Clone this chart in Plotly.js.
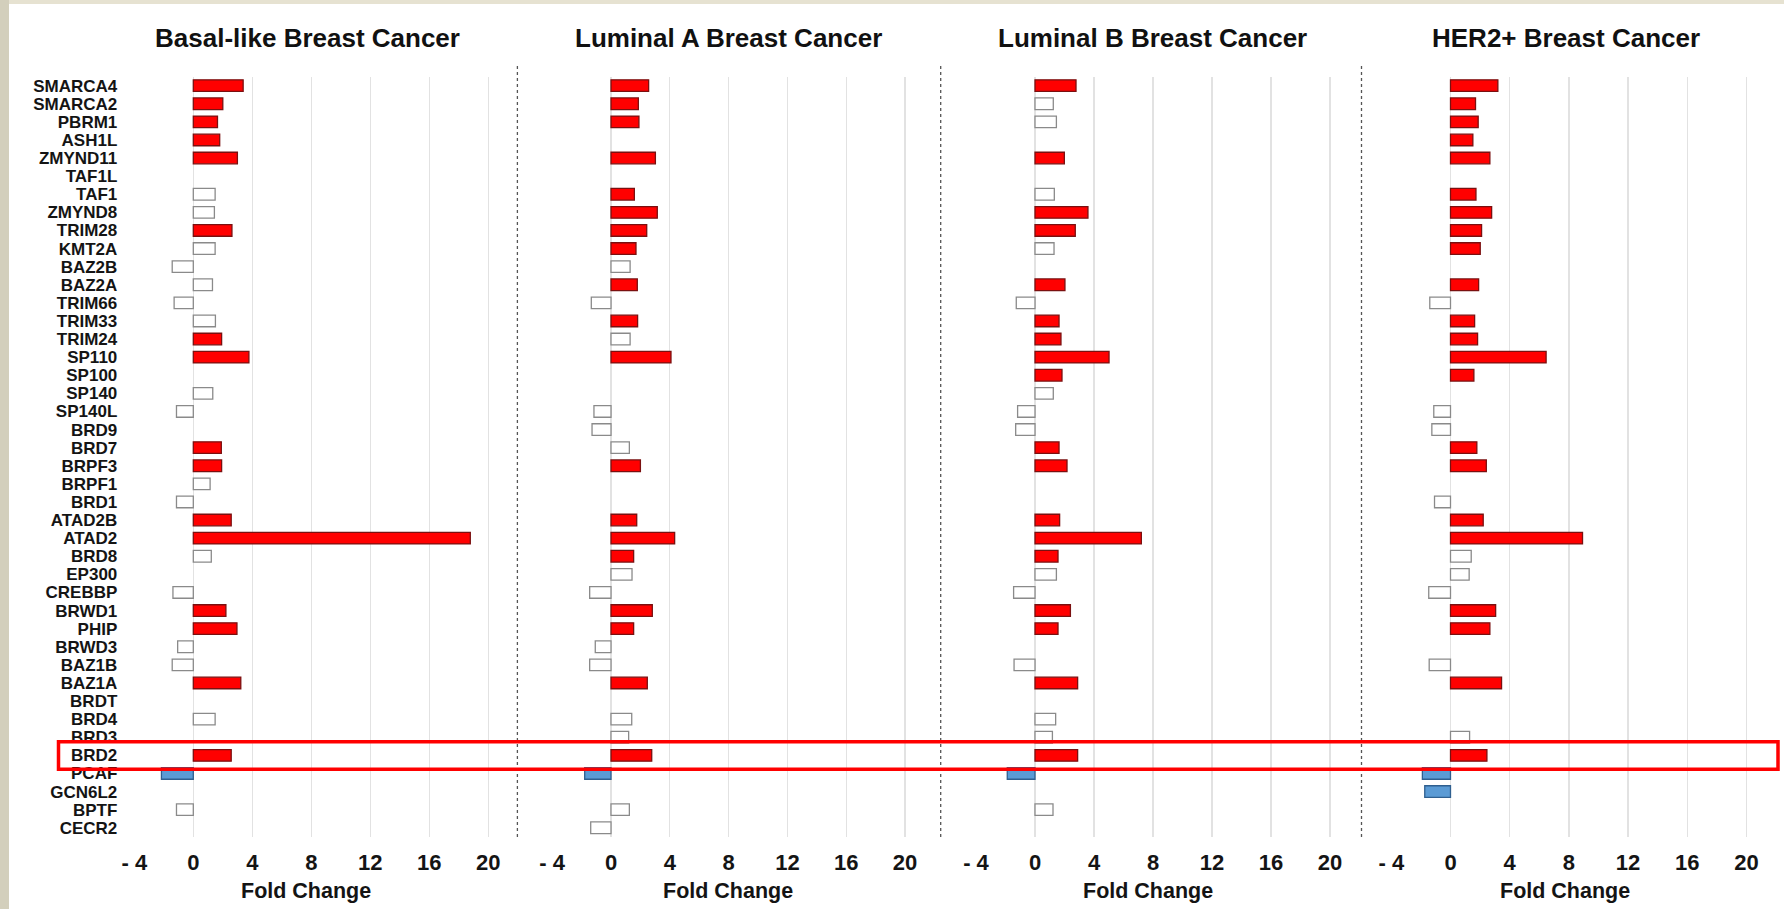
<!DOCTYPE html>
<html>
<head>
<meta charset="utf-8">
<script src="https://cdn.plot.ly/plotly-3.0.1.min.js"></script>
<style>
  html, body { margin: 0; padding: 0; background: #ffffff; }
  #chart { width: 1784px; height: 909px; }
</style>
</head>
<body>
<div id="chart"></div>
<script>
// ---------- DATA ----------
const genes = ["SMARCA4","SMARCA2","PBRM1","ASH1L","ZMYND11","TAF1L","TAF1","ZMYND8","TRIM28","KMT2A",
  "BAZ2B","BAZ2A","TRIM66","TRIM33","TRIM24","SP110","SP100","SP140","SP140L","BRD9",
  "BRD7","BRPF3","BRPF1","BRD1","ATAD2B","ATAD2","BRD8","EP300","CREBBP","BRWD1",
  "PHIP","BRWD3","BAZ1B","BAZ1A","BRDT","BRD4","BRD3","BRD2","PCAF","GCN6L2",
  "BPTF","CECR2"];

const panelTitles = ["Basal-like Breast Cancer","Luminal A Breast Cancer","Luminal B Breast Cancer","HER2+ Breast Cancer"];
const xTickVals = [-4,0,4,8,12,16,20];
const xTickText = ["- 4","0","4","8","12","16","20"];
const xTitle = "Fold Change";

// Fold change values (null = not shown)
const basalFC = [3.38,2.0,1.64,1.79,2.99,null,1.48,1.43,2.62,1.48,
  -1.43,1.3,-1.3,1.5,1.92,3.77,null,1.32,-1.14,null,
  1.9,1.92,1.14,-1.14,2.57,18.78,1.22,null,-1.38,2.21,
  2.96,-1.06,-1.43,3.22,null,1.48,null,2.57,-2.16,null,
  -1.14,null];
const lumAFC = [2.56,1.86,1.9,null,3.02,null,1.59,3.15,2.43,1.7,
  1.3,1.79,-1.34,1.81,1.3,4.08,null,null,-1.16,-1.29,
  1.25,2.0,null,null,1.75,4.33,1.54,1.43,-1.45,2.81,
  1.54,-1.07,-1.45,2.47,null,1.41,1.2,2.77,-1.79,null,
  1.25,-1.38];
const lumBFC = [2.78,1.24,1.45,null,1.99,null,1.31,3.59,2.73,1.29,
  null,2.03,-1.27,1.63,1.76,5.02,1.83,1.24,-1.18,-1.31,
  1.63,2.17,null,null,1.67,7.21,1.56,1.45,-1.45,2.4,
  1.56,null,-1.42,2.89,null,1.4,1.18,2.89,-1.88,null,
  1.22,null];
const her2FC = [3.2,1.69,1.87,1.51,2.66,null,1.72,2.78,2.1,2.01,
  null,1.9,-1.4,1.63,1.83,6.46,1.58,null,-1.13,-1.26,
  1.78,2.42,null,-1.08,2.21,8.92,1.4,1.26,-1.47,3.05,
  2.66,null,-1.44,3.45,null,null,1.29,2.46,-1.9,-1.74,
  null,null];

// Significance flags (1 = significant, 0 = not significant)
const basalSig = [1,1,1,1,1,0,0,0,1,0, 0,0,0,0,1,1,0,0,0,0, 1,1,0,0,1,1,0,0,0,1, 1,0,0,1,0,0,0,1,1,0, 0,0];
const lumASig  = [1,1,1,0,1,0,1,1,1,1, 0,1,0,1,0,1,0,0,0,0, 0,1,0,0,1,1,1,0,0,1, 1,0,0,1,0,0,0,1,1,0, 0,0];
const lumBSig  = [1,0,0,0,1,0,0,1,1,0, 0,1,0,1,1,1,1,0,0,0, 1,1,0,0,1,1,1,0,0,1, 1,0,0,1,0,0,0,1,1,0, 0,0];
const her2Sig  = [1,1,1,1,1,0,1,1,1,1, 0,1,0,1,1,1,1,0,0,0, 1,1,0,0,1,1,0,0,0,1, 1,0,0,1,0,0,0,1,1,1, 0,0];

// ---------- STYLE ----------
const W = 1784, H = 909;
const FONT = "Liberation Sans, Arial, Helvetica, sans-serif";
const px = v => v / W;
const py = v => 1 - v / H;

const panels = [
  {fc: basalFC, sig: basalSig, dom: [134.3, 517.8], titleX: 307, fcX: 306},
  {fc: lumAFC,  sig: lumASig,  dom: [552.2, 934.4], titleX: 728, fcX: 728},
  {fc: lumBFC,  sig: lumBSig,  dom: [976.0, 1359.5], titleX: 1152, fcX: 1148},
  {fc: her2FC,  sig: her2Sig,  dom: [1391.3, 1776.1], titleX: 1566, fcX: 1565}
];

function fillFor(v, s) {
  if (v === null) return "rgba(0,0,0,0)";
  if (!s) return "#ffffff";
  return v > 0 ? "#ff0000" : "#5b9bd5";
}
function lineFor(v, s) {
  if (v === null) return "rgba(0,0,0,0)";
  if (!s) return "#8a8a8a";
  return v > 0 ? "#7a1010" : "#2f5f8f";
}

const traces = panels.map((p, i) => ({
  type: "bar",
  orientation: "h",
  y: genes,
  x: p.fc,
  xaxis: i === 0 ? "x" : "x" + (i + 1),
  yaxis: "y",
  width: 0.64,
  marker: {
    color: p.fc.map((v, k) => fillFor(v, p.sig[k])),
    line: {color: p.fc.map((v, k) => lineFor(v, p.sig[k])), width: 1.3}
  },
  hoverinfo: "y+x",
  showlegend: false
}));

const layout = {
  width: W, height: H,
  margin: {l: 0, r: 0, t: 0, b: 0},
  paper_bgcolor: "#ffffff",
  plot_bgcolor: "rgba(0,0,0,0)",
  bargap: 0.36,
  showlegend: false,
  yaxis: {
    type: "category",
    categoryarray: genes,
    categoryorder: "array",
    tickmode: "array",
    tickvals: genes,
    ticktext: genes,
    range: [genes.length - 0.5, -0.5],
    domain: [py(836.8), py(76.6)],
    anchor: "x",
    showgrid: false, zeroline: false, showline: false,
    ticks: "",
    ticklabelstandoff: 16,
    tickfont: {family: FONT, size: 17, color: "#141414", weight: "bold"},
    fixedrange: true
  },
  annotations: [],
  shapes: []
};

panels.forEach((p, i) => {
  const key = i === 0 ? "xaxis" : "xaxis" + (i + 1);
  layout[key] = {
    domain: [px(p.dom[0]), px(p.dom[1])],
    range: [-4, 22],
    anchor: "y",
    tickmode: "array",
    tickvals: xTickVals,
    ticktext: xTickText,
    showgrid: true,
    gridcolor: "#e2e2e2",
    gridwidth: 1.3,
    zeroline: false,
    showline: false,
    ticks: "",
    ticklabelstandoff: 10,
    tickfont: {family: FONT, size: 22, color: "#141414", weight: "bold"},
    fixedrange: true
  };
  layout.annotations.push({
    xref: "paper", yref: "paper", x: px(p.titleX), y: py(38),
    xanchor: "center", yanchor: "middle", showarrow: false,
    text: panelTitles[i],
    font: {family: FONT, size: 26, color: "#111111", weight: "bold"}
  });
  layout.annotations.push({
    xref: "paper", yref: "paper", x: px(p.fcX), y: py(890.5),
    xanchor: "center", yanchor: "middle", showarrow: false,
    text: xTitle,
    font: {family: FONT, size: 21.5, color: "#141414", weight: "bold"}
  });
});

// panel separators (dotted)
[517.4, 940.7, 1361.5].forEach(xp => {
  layout.shapes.push({
    type: "line", xref: "paper", yref: "paper",
    x0: px(xp), x1: px(xp), y0: py(66), y1: py(838),
    line: {color: "#555555", width: 1.3, dash: "dot"}
  });
});

// background border strips
layout.shapes.push({type: "rect", xref: "paper", yref: "paper", x0: 0, x1: 1, y0: py(4), y1: 1,
  fillcolor: "#e6e2d1", line: {width: 0}, layer: "below"});
layout.shapes.push({type: "rect", xref: "paper", yref: "paper", x0: 0, x1: px(9), y0: 0, y1: 1,
  fillcolor: "#d3cfbc", line: {width: 0}, layer: "below"});

// highlight box around BRD2
layout.shapes.push({
  type: "rect", xref: "paper", yref: "paper",
  x0: px(58.5), x1: px(1778), y0: py(769.3), y1: py(741.7),
  line: {color: "#ff0000", width: 3.5}, fillcolor: "rgba(0,0,0,0)", layer: "above"
});

Plotly.newPlot("chart", traces, layout, {displayModeBar: false, staticPlot: true});
</script>
</body>
</html>
